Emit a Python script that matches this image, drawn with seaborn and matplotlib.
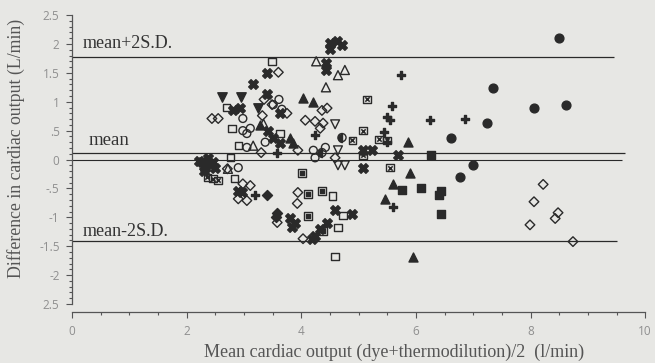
import numpy as np
import matplotlib
matplotlib.use("Agg")
import matplotlib.pyplot as plt
import seaborn as sns

from matplotlib.markers import MarkerStyle
from matplotlib.ticker import MultipleLocator


# one symbol per patient: difference vs mean cardiac output (L/min)
filled_circle_x = [8.50, 7.35, 8.06, 8.62, 7.24, 6.61, 7.00, 6.77]
filled_circle_y = [2.10, 1.23, 0.89, 0.95, 0.63, 0.38, -0.09, -0.31]

open_diamond_x = [8.22, 8.06, 8.48, 8.43, 7.99, 8.74, 3.60, 3.35, 3.49, 2.55, 3.32, 4.07, 4.24, 4.38,
                  4.45, 4.36, 4.33, 3.30, 3.94, 4.59, 2.71, 2.98, 3.11, 2.90, 3.05, 3.94, 3.93, 3.58,
                  4.03, 2.44, 3.75]
open_diamond_y = [-0.43, -0.73, -0.92, -1.02, -1.13, -1.42, 1.51, 1.04, 0.95, 0.71, 0.76, 0.68, 0.66, 0.63,
                  0.89, 0.85, 0.54, 0.12, 0.16, 0.03, -0.16, -0.42, -0.45, -0.68, -0.71, -0.57, -0.76, -1.09,
                  -1.37, 0.71, 0.80]

filled_square_x = [5.76, 6.09, 6.44, 6.27, 6.44, 6.41]
filled_square_y = [-0.52, -0.49, -0.94, 0.07, -0.55, -0.61]

filled_tri_up_x = [4.03, 4.21, 5.86, 5.90, 5.60, 5.46, 5.95, 3.80, 3.86, 3.28]
filled_tri_up_y = [1.06, 0.99, 0.30, -0.24, -0.43, -0.69, -1.68, 0.38, 0.28, 0.59]

open_tri_up_x = [4.26, 4.64, 4.76, 4.43, 3.16, 2.72, 3.34]
open_tri_up_y = [1.70, 1.46, 1.55, 1.25, 0.24, -0.16, 0.62]

filled_tri_down_x = [2.62, 2.95, 3.25]
filled_tri_down_y = [1.08, 1.09, 0.90]

open_tri_down_x = [4.59, 4.64, 4.64, 4.76]
open_tri_down_y = [0.61, 0.16, -0.10, -0.10]

open_square_x = [3.49, 2.69, 2.79, 3.63, 2.90, 2.76, 2.84, 4.73, 4.64, 4.59, 4.54]
open_square_y = [1.70, 0.90, 0.54, 0.45, 0.24, 0.03, -0.33, -0.97, -1.18, -1.68, -0.63]

open_circle_x = [3.61, 3.51, 2.98, 3.11, 3.05, 3.37, 3.05, 4.24, 2.90, 3.66, 2.98, 4.42, 4.21]
open_circle_y = [1.04, 0.95, 0.71, 0.54, 0.45, 0.30, 0.21, 0.03, -0.14, 0.87, 0.50, 0.21, 0.16]

filled_x_x = [4.50, 4.62, 4.71, 4.50, 4.43, 4.43, 3.40, 3.16, 3.40, 2.81, 2.93, 3.63, 3.42, 3.51,
              3.63, 5.08, 5.24, 5.08, 5.69, 2.27, 2.37, 2.46, 2.32, 2.50, 2.22, 2.90, 2.97, 3.80,
              3.89, 3.84, 4.59, 4.89, 4.45, 4.33, 4.24, 4.19, 2.42, 2.30]
filled_x_y = [2.01, 2.05, 1.98, 1.92, 1.67, 1.55, 1.49, 1.30, 1.13, 0.85, 0.89, 0.80, 0.50, 0.38,
              0.28, 0.16, 0.16, -0.14, 0.07, -0.05, 0.02, -0.05, -0.14, -0.14, -0.02, -0.54, -0.57, -1.02,
              -1.09, -1.16, -0.87, -0.94, -1.09, -1.20, -1.32, -1.37, -0.10, -0.20]

plus_x = [5.74, 5.58, 5.50, 5.55, 6.25, 6.86, 5.45, 5.50, 5.60, 4.24, 3.58, 3.19]
plus_y = [1.46, 0.92, 0.73, 0.68, 0.68, 0.71, 0.47, 0.30, -0.82, 0.42, 0.12, -0.61]

filled_diamond_x = [3.40, 3.58, 3.56]
filled_diamond_y = [-0.61, -0.92, -0.99]

dotted_square_x = [5.15, 4.89, 5.08, 5.50, 5.36, 5.08, 5.55, 2.36, 2.46, 2.55]
dotted_square_y = [1.04, 0.33, 0.50, 0.33, 0.35, 0.07, -0.14, -0.31, -0.33, -0.36]

boxed_square_x = [4.01, 4.12, 4.36, 4.12, 4.38]
boxed_square_y = [-0.24, -0.59, -0.54, -0.97, -1.23]

half_circle_x = [4.71, 4.36]
half_circle_y = [0.38, 0.12]

MEAN_DIFF = 0.12
UPPER_LIMIT = 1.77
LOWER_LIMIT = -1.41

y_ticks = [-2.5, -2, -1.5, -1, -0.5, 0, 0.5, 1, 1.5, 2, 2.5]
y_tick_labels = ["2.5", "-2", "-1.5", "-1", "-.5", "0", ".5", "1", "1.5", "2", "2.5"]
x_ticks = [0, 2, 4, 6, 8, 10]

PAPER = "#e7e7e4"
INK = "#2a2a2a"

sns.set_style("white")
plt.rcParams["font.family"] = ["Open Sans", "DejaVu Sans"]

fig = plt.figure(figsize=(6.55, 3.63), dpi=100)
fig.patch.set_facecolor(PAPER)
ax = fig.add_axes([0.110, 0.1625, 0.875, 0.796])
ax.set_facecolor(PAPER)


def dots(x, y, marker, size, filled=True, lw=1.0, **kws):
    if filled:
        sns.scatterplot(x=x, y=y, marker=marker, s=size, color=INK, edgecolor=INK,
                        linewidth=lw, ax=ax, zorder=3, **kws)
    else:
        sns.scatterplot(x=x, y=y, marker=marker, s=size, facecolor="none", edgecolor=INK,
                        linewidth=lw, ax=ax, zorder=3, **kws)


dots(filled_circle_x, filled_circle_y, "o", 40)
dots(open_diamond_x, open_diamond_y, "D", 24, filled=False)
dots(filled_square_x, filled_square_y, "s", 30)
dots(filled_tri_up_x, filled_tri_up_y, "^", 42)
dots(open_tri_up_x, open_tri_up_y, "^", 42, filled=False)
dots(filled_tri_down_x, filled_tri_down_y, "v", 46)
dots(open_tri_down_x, open_tri_down_y, "v", 40, filled=False)
dots(open_square_x, open_square_y, "s", 28, filled=False)
dots(open_circle_x, open_circle_y, "o", 32, filled=False)
dots(filled_x_x, filled_x_y, "X", 48)
dots(plus_x, plus_y, "P", 36)
dots(filled_diamond_x, filled_diamond_y, "D", 26)
dots(dotted_square_x, dotted_square_y, "s", 30, filled=False)
dots(dotted_square_x, dotted_square_y, "x", 10, lw=1.1)
dots(boxed_square_x, boxed_square_y, "s", 32, filled=False)
dots(boxed_square_x, boxed_square_y, "s", 8)
dots(half_circle_x, half_circle_y, "o", 34, filled=False)
dots(half_circle_x, half_circle_y, MarkerStyle("o", fillstyle="left"), 34)

# mean, zero and agreement limits
ax.hlines(UPPER_LIMIT, 0, 9.45, color=INK, lw=0.9)
ax.hlines(MEAN_DIFF, 0, 9.65, color=INK, lw=0.9)
ax.hlines(0, 0, 9.6, color=INK, lw=0.8)
ax.hlines(LOWER_LIMIT, 0, 9.5, color=INK, lw=0.9)

serif = ["Liberation Serif", "DejaVu Serif"]
ax.text(0.18, 2.0, "mean+2S.D.", family=serif, fontsize=13, color="#333333", va="center")
ax.text(0.28, 0.33, "mean", family=serif, fontsize=13.5, color="#333333", va="center")
ax.text(0.18, -1.24, "mean-2S.D.", family=serif, fontsize=13, color="#333333", va="center")

ax.set_xlim(0, 10)
ax.set_ylim(-2.5, 2.5)
ax.set_xticks(x_ticks)
ax.set_xticklabels([str(t) for t in x_ticks])
ax.set_yticks(y_ticks)
ax.set_yticklabels(y_tick_labels)
ax.xaxis.set_minor_locator(MultipleLocator(0.5))
ax.yaxis.set_minor_locator(MultipleLocator(0.1))
ax.tick_params(which="both", direction="out", color="#555555", width=0.8,
               labelcolor="#8f8f8f", labelsize=8.5, bottom=True, left=True)
ax.tick_params(which="major", length=4, pad=5)
ax.tick_params(which="minor", length=2.2)
ax.set_xlabel("")
ax.set_ylabel("")

sns.despine(ax=ax)
ax.spines["bottom"].set_position(("outward", 6))
for side in ("left", "bottom"):
    ax.spines[side].set_color("#555555")
    ax.spines[side].set_linewidth(0.9)

fig.text(0.602, 0.028, "Mean cardiac output (dye+thermodilution)/2  (l/min)", family=serif,
         fontsize=13, color="#555555", ha="center", va="center")
fig.text(0.024, 0.59, "Difference in cardiac output (L/min)", family=serif,
         fontsize=12.8, color="#555555", ha="center", va="center", rotation=90)

fig.savefig("out.png", dpi=100, facecolor=PAPER)
